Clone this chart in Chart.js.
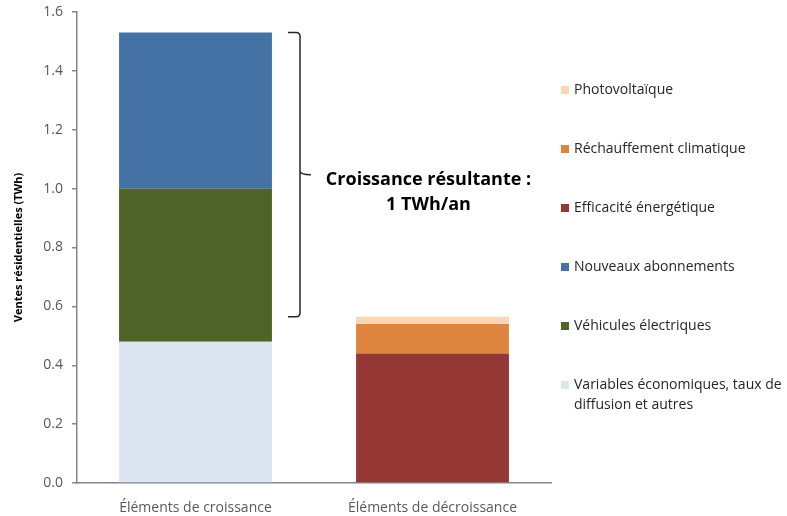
<!DOCTYPE html>
<html>
<head>
<meta charset="utf-8">
<script src="https://cdn.jsdelivr.net/npm/chart.js@4"></script>
<style>
  html, body { margin: 0; padding: 0; background: #fff; }
  #wrap { width: 787px; height: 516px; }
</style>
</head>
<body>
<div id="wrap"><canvas id="chart" width="787" height="516"></canvas></div>
<script>
// Données (TWh)
const categories = ['Éléments de croissance', 'Éléments de décroissance'];
const variables = [0.48, null];
const vehicules = [0.52, null];
const abonnements = [0.53, null];
const efficacite = [null, 0.44];
const rechauffement = [null, 0.10];
const photovoltaique = [null, 0.025];
const yTicks = [0, 0.2, 0.4, 0.6, 0.8, 1.0, 1.2, 1.4, 1.6];

const FONT = '"Open Sans", "DejaVu Sans", sans-serif';
const GREY = '#595959';
const AXIS = '#868686';

const series = [
    { label: 'Variables économiques, taux de\ndiffusion et autres', data: variables, color: '#DCE6F2' },
    { label: 'Véhicules électriques', data: vehicules, color: '#4F6228' },
    { label: 'Nouveaux abonnements', data: abonnements, color: '#4472A4' },
    { label: 'Efficacité énergétique', data: efficacite, color: '#953735' },
    { label: 'Réchauffement climatique', data: rechauffement, color: '#DD843F' },
    { label: 'Photovoltaïque', data: photovoltaique, color: '#FCD5B5' }
];

function total(arr, i) {
    return arr.reduce((s, a) => s + (a[i] || 0), 0);
}

// Accolade + texte "Croissance résultante"
const bracketPlugin = {
    id: 'bracket',
    afterDatasetsDraw(chart) {
        const ctx = chart.ctx;
        const x = chart.scales.x, y = chart.scales.y;
        const top = y.getPixelForValue(total([variables, vehicules, abonnements], 0));
        const bottom = y.getPixelForValue(total([efficacite, rechauffement, photovoltaique], 1));
        const mid = (top + bottom) / 2;
        const between = (x.getPixelForValue(0) + x.getPixelForValue(1)) / 2;
        const x0 = between - 26, x1 = between - 14, xt = between - 3, r = 4;

        ctx.save();
        ctx.strokeStyle = '#262626';
        ctx.lineWidth = 1.5;
        ctx.beginPath();
        ctx.moveTo(x0, top);
        ctx.lineTo(x1 - r, top);
        ctx.quadraticCurveTo(x1, top, x1, top + r);
        ctx.lineTo(x1, mid - r);
        ctx.quadraticCurveTo(x1, mid, xt, mid);
        ctx.moveTo(x1, mid - r);
        ctx.quadraticCurveTo(x1, mid, x1, mid + r);
        ctx.lineTo(x1, bottom - r);
        ctx.quadraticCurveTo(x1, bottom, x1 - r, bottom);
        ctx.lineTo(x0, bottom);
        ctx.stroke();

        ctx.fillStyle = '#000';
        ctx.font = 'bold 18px ' + FONT;
        ctx.textAlign = 'center';
        ctx.textBaseline = 'middle';
        const cx = x.getPixelForValue(1) - 4;
        ctx.fillText('Croissance résultante :', cx, mid + 5);
        ctx.fillText('1 TWh/an', cx, mid + 30);
        ctx.restore();
    }
};

// Légende à droite
const legendPlugin = {
    id: 'sideLegend',
    afterDraw(chart) {
        const ctx = chart.ctx;
        const area = chart.chartArea;
        const items = chart.data.datasets.slice().reverse();
        const lx = area.right + 10;
        let ly = area.top + 78;
        ctx.save();
        ctx.font = '14px ' + FONT;
        ctx.textBaseline = 'middle';
        ctx.textAlign = 'left';
        items.forEach(ds => {
            ctx.fillStyle = ds.backgroundColor;
            ctx.fillRect(lx, ly - 4, 8, 8);
            ctx.fillStyle = '#262626';
            ds.label.split('\n').forEach((line, k) => {
                ctx.fillText(line, lx + 13, ly + k * 20);
            });
            ly += 59;
        });
        ctx.restore();
    }
};

new Chart(document.getElementById('chart'), {
    type: 'bar',
    data: {
        labels: categories,
        datasets: series.map(s => ({
            label: s.label,
            data: s.data,
            backgroundColor: s.color,
            borderWidth: 0,
            barPercentage: 0.645,
            categoryPercentage: 1
        }))
    },
    options: {
        responsive: false,
        animation: false,
        layout: { padding: { left: 0, right: 236, top: 12, bottom: 0 } },
        plugins: {
            legend: { display: false },
            tooltip: { enabled: false }
        },
        scales: {
            x: {
                stacked: true,
                grid: { display: false },
                border: { color: AXIS, width: 1.5 },
                ticks: { color: GREY, font: { family: FONT, size: 14 }, padding: 9 },
                afterFit(scale) {
                    scale.height = 33;
                    scale.paddingLeft = 0;
                    scale.paddingRight = 0;
                }
            },
            y: {
                stacked: true,
                min: 0,
                max: 1.6,
                afterBuildTicks(scale) { scale.ticks = yTicks.map(v => ({ value: v })); },
                ticks: {
                    color: GREY,
                    font: { family: FONT, size: 14 },
                    padding: 9,
                    callback: v => Number(v).toFixed(1)
                },
                grid: { drawOnChartArea: false, drawTicks: true, tickLength: 5, color: AXIS, lineWidth: 1.5 },
                border: { color: AXIS, width: 1.5 },
                title: {
                    display: true,
                    text: 'Ventes résidentielles (TWh)',
                    color: '#000',
                    font: { family: FONT, size: 11, weight: 'bold' },
                    padding: { top: 12, bottom: 0 }
                },
                afterFit(scale) {
                    scale.width = 77;
                    scale.paddingTop = 0;
                    scale.paddingBottom = 0;
                }
            }
        }
    },
    plugins: [bracketPlugin, legendPlugin]
});
</script>
</body>
</html>
